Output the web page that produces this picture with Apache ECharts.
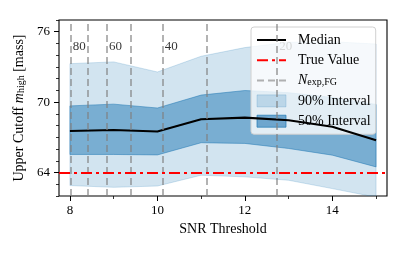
<!DOCTYPE html>
<html><head><meta charset="utf-8">
<script src="https://cdn.jsdelivr.net/npm/echarts@6/dist/echarts.min.js"></script>
<style>html,body{margin:0;padding:0;background:#fff}#c{width:407px;height:255px}</style>
</head><body><div id="c"></div>
<script>
const snr = [8, 9, 10, 11, 12, 13, 14, 15];
const median = [67.54, 67.62, 67.50, 68.54, 68.68, 68.45, 67.90, 66.76];
const lo50 = [65.54, 65.54, 65.50, 66.54, 66.48, 66.05, 65.48, 64.48];
const hi50 = [69.68, 69.83, 69.50, 70.60, 70.99, 70.80, 70.40, 69.80];
const lo90 = [62.89, 62.74, 62.85, 63.77, 63.63, 63.34, 62.63, 61.90];
const hi90 = [73.28, 73.43, 72.57, 73.91, 74.65, 75.10, 75.15, 74.95];
const trueValue = 64;
const nExp = [80, 70, 60, 50, 40, 30, 20];
const nExpSnr = [8.02, 8.40, 8.85, 9.39, 10.12, 11.13, 12.74];
const nLabelY = 74.7;
const xMajor = [8, 10, 12, 14];
const xMinor = [9, 11, 13, 15];
const yMajor = [64, 70, 76];
const yMinor = [62, 63, 65, 66, 67, 68, 69, 71, 72, 73, 74, 75, 77];

const FONT = 'Liberation Serif';
const chart = echarts.init(document.getElementById('c'), null, {renderer: 'canvas'});

function band(lo, hi, color) {
  return function (params, api) {
    if (params.dataIndex !== 0) return;
    const pts = [];
    for (let i = 0; i < snr.length; i++) pts.push(api.coord([snr[i], hi[i]]));
    for (let i = snr.length - 1; i >= 0; i--) pts.push(api.coord([snr[i], lo[i]]));
    const cs = params.coordSys;
    return {
      type: 'polygon',
      shape: {points: pts},
      style: {fill: color, stroke: color, lineWidth: 1},
      clipPath: {type: 'rect', shape: {x: cs.x, y: cs.y, width: cs.width, height: cs.height}}
    };
  };
}

const c90 = 'rgba(31,119,180,0.2)';
const c50 = 'rgba(31,119,180,0.5)';
const noSym = {opacity: 0, color: 'transparent', borderWidth: 0};

const option = {
  animation: false,
  textStyle: {fontFamily: FONT},
  grid: {left: 59, right: 20, top: 20, bottom: 59, show: true, borderColor: '#000', borderWidth: 1.1, backgroundColor: 'transparent'},
  xAxis: [{
    type: 'value', min: 7.75, max: 15.25,
    name: 'SNR Threshold', nameLocation: 'middle', nameGap: 26,
    nameTextStyle: {fontFamily: FONT, fontSize: 14, color: '#000'},
    axisLine: {show: false},
    splitLine: {show: false},
    axisTick: {show: true, customValues: xMajor, length: 5, lineStyle: {color: '#000', width: 1}},
    axisLabel: {customValues: xMajor, margin: 8, fontFamily: FONT, fontSize: 13, color: '#000'}
  }, {
    type: 'value', min: 7.75, max: 15.25, position: 'bottom',
    axisLine: {show: false}, splitLine: {show: false},
    axisTick: {show: true, customValues: xMinor, length: 3, lineStyle: {color: '#000', width: 0.8}},
    axisLabel: {show: false}
  }],
  yAxis: [{
    type: 'value', min: 62, max: 77,
    name: 'Upper Cutoff {m|m}{s|high} [mass]', nameLocation: 'middle', nameGap: 27,
    nameTextStyle: {fontFamily: FONT, fontSize: 14, color: '#000', lineHeight: 14,
      rich: {m: {fontFamily: FONT, fontStyle: 'italic', fontSize: 14, lineHeight: 14}, s: {fontFamily: FONT, fontSize: 10, lineHeight: 8, verticalAlign: 'bottom'}}},
    axisLine: {show: false}, splitLine: {show: false},
    axisTick: {show: true, customValues: yMajor, length: 5, lineStyle: {color: '#000', width: 1}},
    axisLabel: {customValues: yMajor, margin: 9, fontFamily: FONT, fontSize: 13, color: '#000'}
  }, {
    type: 'value', min: 62, max: 77, position: 'left',
    axisLine: {show: false}, splitLine: {show: false},
    axisTick: {show: true, customValues: yMinor, length: 3, lineStyle: {color: '#000', width: 0.8}},
    axisLabel: {show: false}
  }],
  legend: {
    left: 251, top: 27, orient: 'vertical',
    padding: [6, 5, 6, 5], itemGap: 6.3, itemWidth: 29, itemHeight: 12,
    backgroundColor: 'rgba(255,255,255,0.8)', borderColor: '#d0d0d0', borderWidth: 1, borderRadius: 3,
    textStyle: {fontFamily: FONT, fontSize: 14, color: '#000', lineHeight: 14, padding: [0, 0, 0, 7],
      rich: {i: {fontFamily: FONT, fontStyle: 'italic', fontSize: 14, lineHeight: 14}, s: {fontFamily: FONT, fontSize: 10, lineHeight: 8, verticalAlign: 'bottom'}}},
    formatter: function (name) { return name === 'N' ? '{i|N}{s|exp,FG}' : name; },
    data: [
      {name: 'Median', itemStyle: noSym},
      {name: 'True Value', itemStyle: noSym},
      {name: 'N', itemStyle: noSym},
      {name: '90% Interval', icon: 'rect', itemStyle: {color: c90, borderColor: c90, borderWidth: 1}},
      {name: '50% Interval', icon: 'rect', itemStyle: {color: 'rgba(31,119,180,0.6)', borderColor: 'rgba(31,119,180,0.7)', borderWidth: 1}}
    ]
  },
  series: [
    {name: '90% Interval', type: 'custom', data: [0], renderItem: band(lo90, hi90, c90), z: 1, silent: true, itemStyle: {color: c90}},
    {name: '50% Interval', type: 'custom', data: [0], renderItem: band(lo50, hi50, c50), z: 1, silent: true, itemStyle: {color: c50}},
    {name: 'N', type: 'line', data: [], symbol: 'none', z: 3,
      lineStyle: {color: 'rgba(128,128,128,0.6)', width: 2, type: [7, 4]},
      itemStyle: {color: 'rgba(128,128,128,0.6)'},
      markLine: {silent: true, symbol: ['none', 'none'], label: {show: false},
        lineStyle: {color: 'rgba(128,128,128,0.6)', width: 2, type: [7, 4]},
        data: nExpSnr.map(v => ({xAxis: v}))}},
    {name: 'Nlabels', type: 'scatter', symbolSize: 0, z: 3, silent: true,
      data: nExpSnr.map((v, i) => [v, nLabelY, nExp[i]]).filter(d => d[2] % 20 === 0),
      label: {show: true, position: 'right', distance: 2, formatter: p => String(p.data[2]), fontFamily: FONT, fontSize: 13, color: '#000'}},
    {name: 'Median', type: 'line', data: snr.map((x, i) => [x, median[i]]), symbol: 'none', z: 4,
      lineStyle: {color: '#000', width: 2.1}, itemStyle: {color: '#000'}},
    {name: 'True Value', type: 'line', data: [], symbol: 'none', z: 4,
      lineStyle: {color: '#ff0000', width: 2, type: [11, 4, 3, 4]}, itemStyle: {color: '#ff0000'},
      markLine: {silent: true, symbol: ['none', 'none'], label: {show: false},
        lineStyle: {color: '#ff0000', width: 2, type: [11, 4, 3, 4]},
        data: [{yAxis: trueValue}]}}
  ]
};
chart.setOption(option);
</script></body></html>
